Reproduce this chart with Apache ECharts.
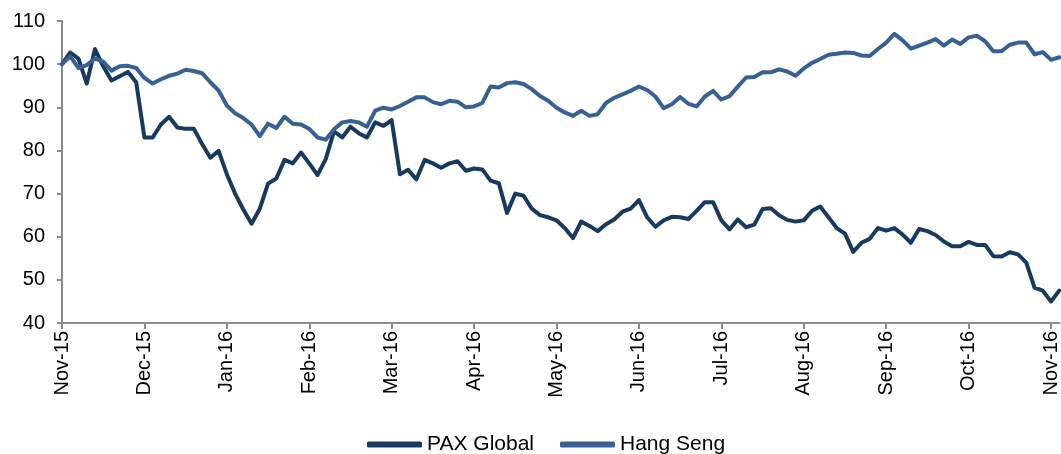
<!DOCTYPE html>
<html>
<head>
<meta charset="utf-8">
<script src="https://cdn.jsdelivr.net/npm/echarts@6/dist/echarts.min.js"></script>
<style>
  html, body { margin: 0; padding: 0; background: #fff; }
  #chart { width: 1061px; height: 454px; }
</style>
</head>
<body>
<div id="chart"></div>
<script>
// month tick labels, one every 10 points
var months = ['Nov-15', 'Dec-15', 'Jan-16', 'Feb-16', 'Mar-16', 'Apr-16', 'May-16',
  'Jun-16', 'Jul-16', 'Aug-16', 'Sep-16', 'Oct-16', 'Nov-16'];
var stepsPerMonth = 10;

// rebased to 100 at Nov-15
var paxGlobal = [
  100, 102.7, 101.3, 95.5, 103.5, 99.5, 96.2, 97.2, 98.2, 95.8,
  83, 83, 86, 87.8, 85.3, 85, 85, 81.5, 78.3, 79.9,
  74.5, 70, 66.3, 63, 66.5, 72.3, 73.5, 77.8, 77, 79.5,
  77, 74.3, 78, 84.4, 83, 85.5, 84, 83, 86.5, 85.7,
  87, 74.5, 75.5, 73.3, 77.8, 77, 76, 77, 77.5, 75.3,
  75.8, 75.6, 73, 72.4, 65.5, 70, 69.5, 66.5, 65, 64.5,
  63.8, 62, 59.7, 63.5, 62.5, 61.3, 62.9, 64, 65.8, 66.5,
  68.5, 64.5, 62.3, 63.8, 64.6, 64.5, 64.1, 66, 68, 68,
  63.8, 61.7, 64, 62.2, 62.8, 66.4, 66.6, 65, 63.9, 63.5,
  63.8, 66, 67, 64.5, 62, 60.7, 56.5, 58.6, 59.5, 62,
  61.4, 62, 60.5, 58.6, 61.8, 61.3, 60.4, 58.9, 57.8, 57.8,
  58.8, 58.1, 58.1, 55.5, 55.4, 56.4, 55.9, 54, 48.2, 47.5,
  45, 47.5
];
var hangSeng = [
  100, 101.8, 99.1, 99.8, 101.3, 100.6, 98.5, 99.5, 99.6, 99.1,
  96.8, 95.5, 96.5, 97.3, 97.8, 98.7, 98.4, 97.9, 95.8, 93.9,
  90.4, 88.6, 87.5, 86, 83.3, 86.2, 85.2, 87.8, 86.2, 86,
  85, 83, 82.5, 84.9, 86.5, 86.8, 86.5, 85.5, 89.2, 89.9,
  89.5, 90.3, 91.3, 92.3, 92.3, 91.2, 90.7, 91.5, 91.3, 90,
  90.2, 91, 94.8, 94.6, 95.6, 95.8, 95.4, 94.2, 92.6, 91.5,
  89.9, 88.8, 88, 89.2, 88, 88.4, 91, 92.2, 93, 93.8,
  94.8, 94, 92.5, 89.8, 90.7, 92.4, 90.8, 90.2, 92.5, 93.8,
  91.8, 92.6, 94.8, 96.9, 97, 98.1, 98.1, 98.8, 98.3, 97.3,
  99, 100.3, 101.2, 102.2, 102.4, 102.7, 102.6, 102, 101.9, 103.5,
  105, 107, 105.5, 103.6, 104.3, 105, 105.8, 104.3, 105.7, 104.7,
  106.2, 106.6, 105.3, 103, 103, 104.5, 105, 105, 102.3, 102.8,
  101, 101.6
];

var categories = paxGlobal.map(function (v, i) { return String(i); });

function isMonthTick(idx) {
  return idx % stepsPerMonth === 0;
}

var chart = echarts.init(document.getElementById('chart'));
chart.setOption({
  backgroundColor: '#fff',
  animation: false,
  textStyle: { fontFamily: 'Liberation Sans, Arial, sans-serif' },
  grid: { left: 62, top: 21, width: 1000, bottom: 131 },
  legend: {
    data: ['PAX Global', 'Hang Seng'],
    left: 362,
    top: 429,
    icon: 'roundRect',
    itemWidth: 55,
    itemHeight: 6,
    itemGap: 26,
    textStyle: { color: '#000', fontSize: 21, fontFamily: 'Liberation Sans, Arial, sans-serif' }
  },
  xAxis: {
    type: 'category',
    boundaryGap: false,
    data: categories,
    axisLine: { lineStyle: { color: '#8c8c8c', width: 2 } },
    axisTick: {
      interval: isMonthTick,
      length: 6,
      lineStyle: { color: '#8c8c8c', width: 2 }
    },
    axisLabel: {
      interval: isMonthTick,
      rotate: 90,
      margin: 8,
      color: '#000',
      fontSize: 20,
      formatter: function (v, idx) {
        return isMonthTick(idx) ? months[idx / stepsPerMonth] : '';
      }
    },
    splitLine: { show: false }
  },
  yAxis: {
    type: 'value',
    min: 40,
    max: 110,
    interval: 10,
    axisLine: { show: true, lineStyle: { color: '#8c8c8c', width: 2 } },
    axisTick: { show: true, length: 5, lineStyle: { color: '#8c8c8c', width: 2 } },
    axisLabel: { color: '#000', fontSize: 20, margin: 17 },
    splitLine: { show: false }
  },
  series: [
    {
      name: 'PAX Global',
      type: 'line',
      data: paxGlobal,
      showSymbol: false,
      symbol: 'none',
      color: '#183a60',
      lineStyle: { color: '#183a60', width: 4, join: 'round', cap: 'round' }
    },
    {
      name: 'Hang Seng',
      type: 'line',
      data: hangSeng,
      showSymbol: false,
      symbol: 'none',
      color: '#376094',
      lineStyle: { color: '#376094', width: 4, join: 'round', cap: 'round' }
    }
  ]
});
</script>
</body>
</html>
